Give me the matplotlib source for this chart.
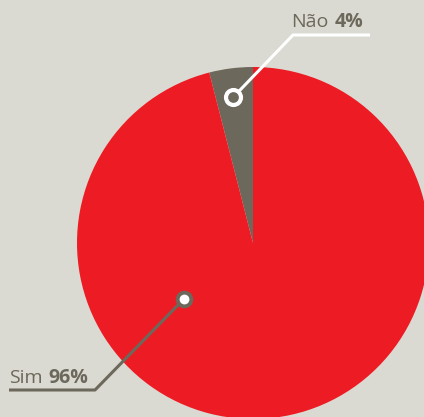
import numpy as np
import matplotlib
matplotlib.use("Agg")
import matplotlib.pyplot as plt

labels = ["Não", "Sim"]
values = [4, 96]
pct_labels = ["4%", "96%"]

bg = "#dadad2"
red = "#ed1c24"
gray = "#6d685c"

W, H = 424, 417
cx, cy, R = 253, H - 243, 176

fig = plt.figure(figsize=(W / 100, H / 100), dpi=100, facecolor=bg)
ax = fig.add_axes([0, 0, 1, 1])
ax.set_facecolor(bg)

ax.pie(
    values,
    colors=[gray, red],
    startangle=90,
    counterclock=True,
    radius=R,
    center=(cx, cy),
    wedgeprops=dict(linewidth=0),
)

ax.set_xlim(0, W)
ax.set_ylim(0, H)
ax.set_aspect("equal")
ax.axis("off")


def polar(angle_deg, r):
    a = np.radians(angle_deg)
    return cx + r * np.cos(a), cy + r * np.sin(a)


def label(x, y, name, pct):
    # normal name, then bold percentage right after it
    t = ax.text(x, y, name, ha="left", va="baseline", fontsize=14,
                family="Open Sans", color=gray)
    fig.canvas.draw()
    bb = t.get_window_extent()
    x1 = ax.transData.inverted().transform((bb.x1, bb.y0))[0]
    ax.text(x1 + 6, y, pct, ha="left", va="baseline", fontsize=14,
            family="Open Sans", fontweight="bold", color=gray)


# Não callout (white)
nx, ny = polar(97.8, 147)
ax.plot([nx, 293, 370], [ny, H - 35, H - 35], color="white", lw=2.2,
        solid_capstyle="butt", zorder=3)
ax.scatter([nx], [ny], s=190, color="white", zorder=4, linewidths=0)
ax.scatter([nx], [ny], s=60, color=gray, zorder=5, linewidths=0)
label(291, H - 27, labels[0], pct_labels[0])

# Sim callout (gray)
sx, sy = polar(219, 89)
ax.plot([sx, 95, 9], [sy, H - 390, H - 390], color=gray, lw=2.2,
        solid_capstyle="butt", zorder=3)
ax.scatter([sx], [sy], s=160, color=gray, zorder=4, linewidths=0)
ax.scatter([sx], [sy], s=50, color="white", zorder=5, linewidths=0)
label(9, H - 383, labels[1], pct_labels[1])

fig.savefig("out.png", dpi=100, facecolor=bg)
